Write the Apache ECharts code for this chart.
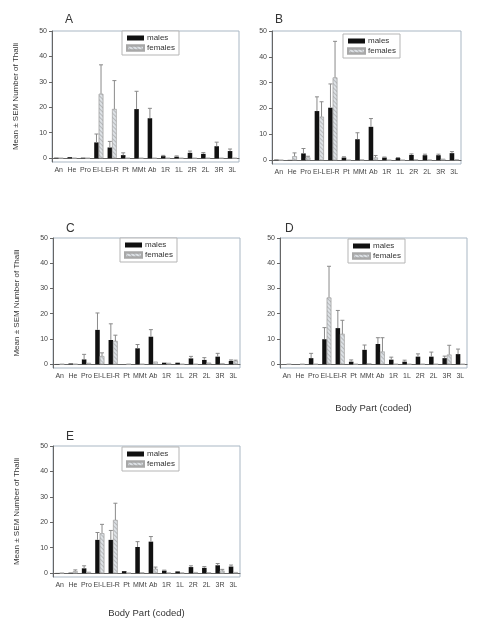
<!DOCTYPE html>
<html>
<head>
<meta charset="utf-8">
<script src="https://cdn.jsdelivr.net/npm/echarts@6/dist/echarts.min.js"></script>
<style>html,body{margin:0;padding:0;background:#fff}#c{width:481px;height:628px}</style>
</head>
<body>
<div id="c"></div>
<script>
const categories = ['An','He','Pro','El-L','El-R','Pt','MMt','Ab','1R','1L','2R','2L','3R','3L'];
const yTicks = [0, 10, 20, 30, 40, 50];
const panelLabels = ['A','B','C','D','E'];

const maleA      = [0.2, 0.4, 0.2, 6.2, 4.2, 1.2, 19.3, 15.7, 0.8, 0.6, 2.1, 1.7, 4.7, 2.8];
const maleSemA   = [0, 0, 0, 3.3, 2.4, 0.9, 7.0, 3.9, 0.3, 0.3, 0.7, 0.5, 1.6, 0.8];
const femaleA    = [0, 0, 0, 25.3, 19.3, 0, 0, 0, 0, 0, 0, 0, 0, 0];
const femaleSemA = [0, 0, 0, 11.4, 11.2, 0, 0, 0, 0, 0, 0, 0, 0, 0];

const maleB      = [0.2, 0.1, 2.6, 19.0, 20.3, 1.0, 8.1, 12.9, 1.0, 0.8, 2.0, 1.9, 1.9, 2.7];
const maleSemB   = [0, 0, 1.9, 5.5, 9.2, 0.3, 2.5, 3.2, 0.2, 0.2, 0.4, 0.4, 0.4, 0.6];
const femaleB    = [0, 1.5, 1.0, 16.8, 32.0, 0, 0.2, 1.0, 0, 0, 0.2, 0.1, 0.5, 0.3];
const femaleSemB = [0, 1.3, 0.5, 5.8, 14.0, 0, 0, 0.8, 0, 0, 0, 0, 0, 0];

const maleC      = [0.1, 0.3, 1.9, 13.6, 9.6, 0, 6.3, 10.9, 0.6, 0.6, 2.3, 1.7, 3.0, 1.3];
const maleSemC   = [0, 0, 2.0, 6.7, 6.4, 0, 1.5, 2.8, 0, 0, 0.8, 0.9, 1.3, 0.4];
const femaleC    = [0, 0, 0.5, 3.2, 9.2, 0, 0, 1.0, 0.5, 0, 0, 0.6, 0.4, 1.3];
const femaleSemC = [0, 0, 0, 1.3, 2.3, 0, 0, 0, 0, 0, 0, 0, 0, 0.3];

const maleD      = [0, 0, 2.4, 9.9, 14.3, 1.0, 5.7, 8.0, 1.8, 1.0, 3.0, 3.0, 2.4, 4.0];
const maleSemD   = [0, 0, 1.9, 4.6, 7.0, 0.7, 1.9, 2.5, 1.0, 0.6, 1.1, 1.8, 0.8, 2.0];
const femaleD    = [0, 0, 0, 26.4, 12.0, 0, 0.4, 5.0, 0, 0, 0, 0, 3.8, 0];
const femaleSemD = [0, 0, 0, 12.4, 5.4, 0, 0, 5.5, 0, 0, 0, 0, 3.7, 0];

const maleE      = [0.1, 0.2, 1.9, 13.1, 13.1, 0.8, 10.3, 12.4, 1.0, 0.7, 2.4, 2.1, 3.1, 2.6];
const maleSemE   = [0, 0, 1.0, 2.9, 3.7, 0, 2.1, 2.0, 0.2, 0, 0.5, 0.5, 0.7, 0.6];
const femaleE    = [0.1, 0.8, 0.5, 15.7, 20.9, 0.1, 0.3, 1.7, 0.2, 0.2, 0.4, 0.3, 1.0, 0.4];
const femaleSemE = [0, 0.5, 0, 3.5, 6.6, 0, 0, 0.7, 0, 0, 0, 0, 0.5, 0];

const yName = 'Mean \u00b1 SEM Number of Thalli';
const xName = 'Body Part (coded)';

const panels = [
  {male: maleA, maleSem: maleSemA, female: femaleA, femaleSem: femaleSemA,
   grid: {left: 52, top: 31, width: 187, height: 131}, title: {left: 60, top: 9},
   legend: {left: 122, top: 31}, yName: true, xName: false},
  {male: maleB, maleSem: maleSemB, female: femaleB, femaleSem: femaleSemB,
   grid: {left: 272, top: 31, width: 189, height: 133}, title: {left: 270, top: 9},
   legend: {left: 343, top: 34}, yName: false, xName: false},
  {male: maleC, maleSem: maleSemC, female: femaleC, femaleSem: femaleSemC,
   grid: {left: 53, top: 238, width: 187, height: 130}, title: {left: 61, top: 218},
   legend: {left: 120, top: 238}, yName: true, xName: false},
  {male: maleD, maleSem: maleSemD, female: femaleD, femaleSem: femaleSemD,
   grid: {left: 280, top: 238, width: 187, height: 130}, title: {left: 280, top: 218},
   legend: {left: 348, top: 239}, yName: false, xName: true},
  {male: maleE, maleSem: maleSemE, female: femaleE, femaleSem: femaleSemE,
   grid: {left: 53, top: 446, width: 187, height: 131}, title: {left: 61, top: 426},
   legend: {left: 122, top: 447}, yName: true, xName: true}
];

const FONT = 'Liberation Sans, Arial, sans-serif';
const BARW = 0.34;
const femaleDecal = {
  symbol: 'rect', symbolSize: 1,
  dashArrayX: [1, 0], dashArrayY: [1, 2],
  rotation: Math.PI / 4, color: 'rgba(120,120,120,0.38)'
};

function errRender(offsetSign) {
  return function (params, api) {
    const idx = api.value(0), mean = api.value(1), sem = api.value(2);
    if (!sem) return null;
    const band = api.size([1, 0])[0];
    const p0 = api.coord([idx, mean]);
    const p1 = api.coord([idx, mean + sem]);
    const x = p0[0] + offsetSign * band * BARW / 2;
    const style = {stroke: '#8a8a8a', lineWidth: 1};
    return {
      type: 'group',
      children: [
        {type: 'line', shape: {x1: x, y1: p0[1], x2: x, y2: p1[1]}, style: style},
        {type: 'line', shape: {x1: x - 2, y1: p1[1], x2: x + 2, y2: p1[1]}, style: style}
      ]
    };
  };
}

const option = {
  animation: false,
  textStyle: {fontFamily: FONT},
  title: [], grid: [], xAxis: [], yAxis: [], legend: [], series: []
};

panels.forEach((p, i) => {
  option.title.push({text: panelLabels[i], left: p.title.left, top: p.title.top,
    textStyle: {fontSize: 12, fontWeight: 'normal', color: '#333', fontFamily: FONT}});
  option.grid.push(Object.assign({show: true, borderColor: '#a9b7c4', borderWidth: 1, backgroundColor: 'transparent'}, p.grid));
  option.xAxis.push({
    type: 'category', gridIndex: i, data: categories,
    axisLine: {lineStyle: {color: '#666', width: 1}},
    axisTick: {alignWithLabel: true, length: 3, lineStyle: {color: '#666'}},
    axisLabel: {interval: 0, fontSize: 7, color: '#444', margin: 5, fontFamily: FONT},
    name: p.xName ? xName : '', nameLocation: 'middle', nameGap: i === 4 ? 31 : 35,
    nameTextStyle: {fontSize: 9.5, color: '#333', fontFamily: FONT}
  });
  option.yAxis.push({
    type: 'value', gridIndex: i, min: -1.5, max: 50,
    axisLine: {show: true, lineStyle: {color: '#666', width: 1}},
    axisTick: {show: true, length: 3, customValues: yTicks, lineStyle: {color: '#666'}},
    axisLabel: {fontSize: 7, color: '#444', margin: 5, customValues: yTicks, fontFamily: FONT},
    splitLine: {show: false},
    name: p.yName ? yName : '', nameLocation: 'middle', nameGap: 32,
    nameTextStyle: {fontSize: 8, color: '#333', fontFamily: FONT}
  });
  option.legend.push({
    left: p.legend.left, top: p.legend.top, orient: 'vertical',
    data: ['males', 'females'], icon: 'rect',
    itemWidth: 17, itemHeight: 5, itemGap: 2,
    padding: [3, 4, 3, 4],
    borderColor: '#b5b5b5', borderWidth: 1, borderRadius: 0, backgroundColor: '#fff',
    textStyle: {fontSize: 8, color: '#333', fontFamily: FONT, padding: [0, 0, 0, -2]},
    selectedMode: false
  });
  option.series.push({
    name: 'males', type: 'bar', xAxisIndex: i, yAxisIndex: i,
    data: p.male, barWidth: (BARW * 100) + '%', barGap: '0%',
    itemStyle: {color: '#111'}
  });
  option.series.push({
    name: 'females', type: 'bar', xAxisIndex: i, yAxisIndex: i,
    data: p.female, barWidth: (BARW * 100) + '%', barGap: '0%',
    itemStyle: {color: '#dde1e5', borderColor: '#a8a8a8', borderWidth: 0.5, decal: femaleDecal}
  });
  option.series.push({
    type: 'custom', xAxisIndex: i, yAxisIndex: i, z: 5,
    renderItem: errRender(-1),
    data: p.male.map((v, k) => [k, v, p.maleSem[k]])
  });
  option.series.push({
    type: 'custom', xAxisIndex: i, yAxisIndex: i, z: 5,
    renderItem: errRender(1),
    data: p.female.map((v, k) => [k, v, p.femaleSem[k]])
  });
});

const chart = echarts.init(document.getElementById('c'), null, {renderer: 'canvas'});
chart.setOption(option);
</script>
</body>
</html>
